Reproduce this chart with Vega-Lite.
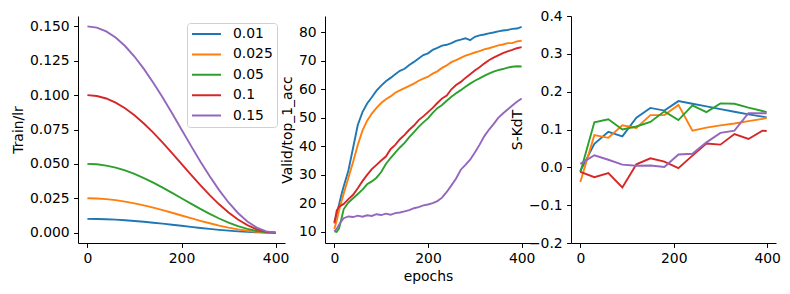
{
"$schema":"https://vega.github.io/schema/vega-lite/v6.json",
"padding":{"left":11,"top":9,"right":0,"bottom":0},
"autosize":{"type":"pad"},
"bounds":"flush",
"spacing":40,
"config":{"font":"DejaVu Sans","view":{"stroke":null},
"axis":{"grid":false,"labelFontSize":13.9,"titleFontSize":13.9,"titleFontWeight":"normal","labelColor":"#000","titleColor":"#000","domainColor":"#000","tickColor":"#000","tickSize":4.4,"labelPadding":4.4,"titlePadding":4,"domainWidth":1,"tickWidth":1,"labelFlush":false,"labelOverlap":false}},
"datasets":{
"lr":[
{"s":"0.01","e":0,"v":0.01},{"s":"0.01","e":20,"v":0.00994},{"s":"0.01","e":40,"v":0.00976},{"s":"0.01","e":60,"v":0.00946},{"s":"0.01","e":80,"v":0.00905},{"s":"0.01","e":100,"v":0.00854},{"s":"0.01","e":120,"v":0.00794},{"s":"0.01","e":140,"v":0.00727},{"s":"0.01","e":160,"v":0.00655},{"s":"0.01","e":180,"v":0.00578},{"s":"0.01","e":200,"v":0.005},{"s":"0.01","e":220,"v":0.00422},{"s":"0.01","e":240,"v":0.00345},{"s":"0.01","e":260,"v":0.00273},{"s":"0.01","e":280,"v":0.00206},{"s":"0.01","e":300,"v":0.00146},{"s":"0.01","e":320,"v":0.00095},{"s":"0.01","e":340,"v":0.00055},{"s":"0.01","e":360,"v":0.00024},{"s":"0.01","e":380,"v":0.00006},{"s":"0.01","e":400,"v":0},
{"s":"0.025","e":0,"v":0.025},{"s":"0.025","e":20,"v":0.02485},{"s":"0.025","e":40,"v":0.02439},{"s":"0.025","e":60,"v":0.02364},{"s":"0.025","e":80,"v":0.02261},{"s":"0.025","e":100,"v":0.02134},{"s":"0.025","e":120,"v":0.01985},{"s":"0.025","e":140,"v":0.01818},{"s":"0.025","e":160,"v":0.01636},{"s":"0.025","e":180,"v":0.01446},{"s":"0.025","e":200,"v":0.0125},{"s":"0.025","e":220,"v":0.01054},{"s":"0.025","e":240,"v":0.00864},{"s":"0.025","e":260,"v":0.00683},{"s":"0.025","e":280,"v":0.00515},{"s":"0.025","e":300,"v":0.00366},{"s":"0.025","e":320,"v":0.00239},{"s":"0.025","e":340,"v":0.00136},{"s":"0.025","e":360,"v":0.00061},{"s":"0.025","e":380,"v":0.00015},{"s":"0.025","e":400,"v":0},
{"s":"0.05","e":0,"v":0.05},{"s":"0.05","e":20,"v":0.04969},{"s":"0.05","e":40,"v":0.04878},{"s":"0.05","e":60,"v":0.04728},{"s":"0.05","e":80,"v":0.04523},{"s":"0.05","e":100,"v":0.04268},{"s":"0.05","e":120,"v":0.03969},{"s":"0.05","e":140,"v":0.03635},{"s":"0.05","e":160,"v":0.03273},{"s":"0.05","e":180,"v":0.02891},{"s":"0.05","e":200,"v":0.025},{"s":"0.05","e":220,"v":0.02109},{"s":"0.05","e":240,"v":0.01727},{"s":"0.05","e":260,"v":0.01365},{"s":"0.05","e":280,"v":0.01031},{"s":"0.05","e":300,"v":0.00732},{"s":"0.05","e":320,"v":0.00477},{"s":"0.05","e":340,"v":0.00273},{"s":"0.05","e":360,"v":0.00122},{"s":"0.05","e":380,"v":0.00031},{"s":"0.05","e":400,"v":0},
{"s":"0.1","e":0,"v":0.1},{"s":"0.1","e":20,"v":0.09938},{"s":"0.1","e":40,"v":0.09755},{"s":"0.1","e":60,"v":0.09455},{"s":"0.1","e":80,"v":0.09045},{"s":"0.1","e":100,"v":0.08536},{"s":"0.1","e":120,"v":0.07939},{"s":"0.1","e":140,"v":0.0727},{"s":"0.1","e":160,"v":0.06545},{"s":"0.1","e":180,"v":0.05782},{"s":"0.1","e":200,"v":0.05},{"s":"0.1","e":220,"v":0.04218},{"s":"0.1","e":240,"v":0.03455},{"s":"0.1","e":260,"v":0.0273},{"s":"0.1","e":280,"v":0.02061},{"s":"0.1","e":300,"v":0.01464},{"s":"0.1","e":320,"v":0.00955},{"s":"0.1","e":340,"v":0.00545},{"s":"0.1","e":360,"v":0.00245},{"s":"0.1","e":380,"v":0.00062},{"s":"0.1","e":400,"v":0},
{"s":"0.15","e":0,"v":0.15},{"s":"0.15","e":20,"v":0.14908},{"s":"0.15","e":40,"v":0.14633},{"s":"0.15","e":60,"v":0.14183},{"s":"0.15","e":80,"v":0.13568},{"s":"0.15","e":100,"v":0.12803},{"s":"0.15","e":120,"v":0.11908},{"s":"0.15","e":140,"v":0.10905},{"s":"0.15","e":160,"v":0.09818},{"s":"0.15","e":180,"v":0.08673},{"s":"0.15","e":200,"v":0.075},{"s":"0.15","e":220,"v":0.06327},{"s":"0.15","e":240,"v":0.05182},{"s":"0.15","e":260,"v":0.04095},{"s":"0.15","e":280,"v":0.03092},{"s":"0.15","e":300,"v":0.02197},{"s":"0.15","e":320,"v":0.01432},{"s":"0.15","e":340,"v":0.00818},{"s":"0.15","e":360,"v":0.00367},{"s":"0.15","e":380,"v":0.00092},{"s":"0.15","e":400,"v":0}
],
"acc":[
{"s":"0.01","e":0,"v":13.5},{"s":"0.01","e":5,"v":16},{"s":"0.01","e":10,"v":19.5},{"s":"0.01","e":15,"v":23},{"s":"0.01","e":20,"v":26},{"s":"0.01","e":30,"v":31.5},{"s":"0.01","e":40,"v":39.5},{"s":"0.01","e":50,"v":47.5},{"s":"0.01","e":60,"v":52},{"s":"0.01","e":70,"v":55},{"s":"0.01","e":80,"v":57.2},{"s":"0.01","e":90,"v":59.5},{"s":"0.01","e":100,"v":61.3},{"s":"0.01","e":110,"v":62.8},{"s":"0.01","e":120,"v":64},{"s":"0.01","e":130,"v":65.3},{"s":"0.01","e":140,"v":66.5},{"s":"0.01","e":150,"v":67.2},{"s":"0.01","e":160,"v":68.5},{"s":"0.01","e":170,"v":69.6},{"s":"0.01","e":180,"v":70.8},{"s":"0.01","e":190,"v":72},{"s":"0.01","e":200,"v":72.6},{"s":"0.01","e":210,"v":73.8},{"s":"0.01","e":220,"v":74.5},{"s":"0.01","e":230,"v":75.3},{"s":"0.01","e":240,"v":75.6},{"s":"0.01","e":250,"v":76.2},{"s":"0.01","e":260,"v":77},{"s":"0.01","e":270,"v":77.4},{"s":"0.01","e":280,"v":77.9},{"s":"0.01","e":290,"v":77.2},{"s":"0.01","e":300,"v":78.4},{"s":"0.01","e":310,"v":78.9},{"s":"0.01","e":320,"v":79.2},{"s":"0.01","e":330,"v":79.6},{"s":"0.01","e":340,"v":79.9},{"s":"0.01","e":350,"v":80.3},{"s":"0.01","e":360,"v":80.6},{"s":"0.01","e":370,"v":80.8},{"s":"0.01","e":380,"v":81.2},{"s":"0.01","e":390,"v":81.3},{"s":"0.01","e":400,"v":81.9},
{"s":"0.025","e":0,"v":11},{"s":"0.025","e":5,"v":14},{"s":"0.025","e":10,"v":17.5},{"s":"0.025","e":15,"v":20.5},{"s":"0.025","e":20,"v":23.5},{"s":"0.025","e":30,"v":29},{"s":"0.025","e":40,"v":34.5},{"s":"0.025","e":50,"v":40.5},{"s":"0.025","e":60,"v":45.5},{"s":"0.025","e":70,"v":49},{"s":"0.025","e":80,"v":51.5},{"s":"0.025","e":90,"v":53.5},{"s":"0.025","e":100,"v":55.2},{"s":"0.025","e":110,"v":56.5},{"s":"0.025","e":120,"v":57.5},{"s":"0.025","e":130,"v":58.8},{"s":"0.025","e":140,"v":59.6},{"s":"0.025","e":150,"v":60.4},{"s":"0.025","e":160,"v":61.2},{"s":"0.025","e":170,"v":62},{"s":"0.025","e":180,"v":63},{"s":"0.025","e":190,"v":63.7},{"s":"0.025","e":200,"v":64.4},{"s":"0.025","e":210,"v":65.5},{"s":"0.025","e":220,"v":66.3},{"s":"0.025","e":230,"v":67.5},{"s":"0.025","e":240,"v":68.4},{"s":"0.025","e":250,"v":69.5},{"s":"0.025","e":260,"v":70.2},{"s":"0.025","e":270,"v":71},{"s":"0.025","e":280,"v":71.8},{"s":"0.025","e":290,"v":72.3},{"s":"0.025","e":300,"v":72.9},{"s":"0.025","e":310,"v":73.4},{"s":"0.025","e":320,"v":74},{"s":"0.025","e":330,"v":74.4},{"s":"0.025","e":340,"v":74.9},{"s":"0.025","e":350,"v":75.4},{"s":"0.025","e":360,"v":75.7},{"s":"0.025","e":370,"v":76.2},{"s":"0.025","e":380,"v":76.2},{"s":"0.025","e":390,"v":76.8},{"s":"0.025","e":400,"v":77},
{"s":"0.05","e":0,"v":10.2},{"s":"0.05","e":5,"v":10},{"s":"0.05","e":10,"v":11.2},{"s":"0.05","e":15,"v":14.5},{"s":"0.05","e":20,"v":18},{"s":"0.05","e":30,"v":20.3},{"s":"0.05","e":40,"v":21.8},{"s":"0.05","e":50,"v":23.3},{"s":"0.05","e":60,"v":24.8},{"s":"0.05","e":70,"v":26.7},{"s":"0.05","e":80,"v":27.7},{"s":"0.05","e":90,"v":29},{"s":"0.05","e":100,"v":31},{"s":"0.05","e":110,"v":33.8},{"s":"0.05","e":120,"v":35.9},{"s":"0.05","e":130,"v":37.8},{"s":"0.05","e":140,"v":39.6},{"s":"0.05","e":150,"v":41.2},{"s":"0.05","e":160,"v":43.2},{"s":"0.05","e":170,"v":45},{"s":"0.05","e":180,"v":46.8},{"s":"0.05","e":190,"v":48.4},{"s":"0.05","e":200,"v":49.8},{"s":"0.05","e":210,"v":51.7},{"s":"0.05","e":220,"v":53.4},{"s":"0.05","e":230,"v":54.5},{"s":"0.05","e":240,"v":56},{"s":"0.05","e":250,"v":57.4},{"s":"0.05","e":260,"v":58.6},{"s":"0.05","e":270,"v":59.7},{"s":"0.05","e":280,"v":60.9},{"s":"0.05","e":290,"v":62},{"s":"0.05","e":300,"v":63},{"s":"0.05","e":310,"v":63.8},{"s":"0.05","e":320,"v":64.7},{"s":"0.05","e":330,"v":65.5},{"s":"0.05","e":340,"v":66.2},{"s":"0.05","e":350,"v":66.7},{"s":"0.05","e":360,"v":67.1},{"s":"0.05","e":370,"v":67.6},{"s":"0.05","e":380,"v":67.9},{"s":"0.05","e":390,"v":68.1},{"s":"0.05","e":400,"v":68},
{"s":"0.1","e":0,"v":13},{"s":"0.1","e":5,"v":17.5},{"s":"0.1","e":10,"v":18.8},{"s":"0.1","e":15,"v":19.3},{"s":"0.1","e":20,"v":19.8},{"s":"0.1","e":30,"v":21.5},{"s":"0.1","e":40,"v":23},{"s":"0.1","e":50,"v":25.3},{"s":"0.1","e":60,"v":27.8},{"s":"0.1","e":70,"v":30},{"s":"0.1","e":80,"v":32},{"s":"0.1","e":90,"v":33.5},{"s":"0.1","e":100,"v":35},{"s":"0.1","e":110,"v":36.4},{"s":"0.1","e":120,"v":39},{"s":"0.1","e":130,"v":40.5},{"s":"0.1","e":140,"v":42.5},{"s":"0.1","e":150,"v":44},{"s":"0.1","e":160,"v":45.8},{"s":"0.1","e":170,"v":47.3},{"s":"0.1","e":180,"v":49.2},{"s":"0.1","e":190,"v":50.5},{"s":"0.1","e":200,"v":52},{"s":"0.1","e":210,"v":53.5},{"s":"0.1","e":220,"v":55.2},{"s":"0.1","e":230,"v":56.8},{"s":"0.1","e":240,"v":57.8},{"s":"0.1","e":250,"v":60},{"s":"0.1","e":260,"v":61.5},{"s":"0.1","e":270,"v":62.6},{"s":"0.1","e":280,"v":64},{"s":"0.1","e":290,"v":65.3},{"s":"0.1","e":300,"v":66.6},{"s":"0.1","e":310,"v":67.7},{"s":"0.1","e":320,"v":69},{"s":"0.1","e":330,"v":70.2},{"s":"0.1","e":340,"v":71.1},{"s":"0.1","e":350,"v":71.9},{"s":"0.1","e":360,"v":72.7},{"s":"0.1","e":370,"v":73.3},{"s":"0.1","e":380,"v":73.8},{"s":"0.1","e":390,"v":74.4},{"s":"0.1","e":400,"v":74.8},
{"s":"0.15","e":0,"v":10.2},{"s":"0.15","e":5,"v":11},{"s":"0.15","e":10,"v":12.5},{"s":"0.15","e":15,"v":13.8},{"s":"0.15","e":20,"v":14.8},{"s":"0.15","e":30,"v":15.4},{"s":"0.15","e":40,"v":15.2},{"s":"0.15","e":50,"v":15.7},{"s":"0.15","e":60,"v":15.3},{"s":"0.15","e":70,"v":15.8},{"s":"0.15","e":80,"v":15.6},{"s":"0.15","e":90,"v":16.2},{"s":"0.15","e":100,"v":15.9},{"s":"0.15","e":110,"v":16.4},{"s":"0.15","e":120,"v":16},{"s":"0.15","e":130,"v":16.6},{"s":"0.15","e":140,"v":16.8},{"s":"0.15","e":150,"v":17.2},{"s":"0.15","e":160,"v":17.6},{"s":"0.15","e":170,"v":18.3},{"s":"0.15","e":180,"v":18.7},{"s":"0.15","e":190,"v":19.3},{"s":"0.15","e":200,"v":19.6},{"s":"0.15","e":210,"v":20.1},{"s":"0.15","e":220,"v":20.8},{"s":"0.15","e":230,"v":22},{"s":"0.15","e":240,"v":24},{"s":"0.15","e":250,"v":26.3},{"s":"0.15","e":260,"v":28.7},{"s":"0.15","e":270,"v":31.8},{"s":"0.15","e":280,"v":33.5},{"s":"0.15","e":290,"v":35.3},{"s":"0.15","e":300,"v":37.8},{"s":"0.15","e":310,"v":40.5},{"s":"0.15","e":320,"v":43.5},{"s":"0.15","e":330,"v":45.8},{"s":"0.15","e":340,"v":47.8},{"s":"0.15","e":350,"v":50},{"s":"0.15","e":360,"v":51.5},{"s":"0.15","e":370,"v":52.9},{"s":"0.15","e":380,"v":54.3},{"s":"0.15","e":390,"v":55.6},{"s":"0.15","e":400,"v":56.8}
],
"kdt":[
{"s":"0.01","e":0,"v":-0.01},{"s":"0.01","e":30,"v":0.062},{"s":"0.01","e":60,"v":0.094},{"s":"0.01","e":90,"v":0.082},{"s":"0.01","e":120,"v":0.131},{"s":"0.01","e":150,"v":0.157},{"s":"0.01","e":180,"v":0.15},{"s":"0.01","e":210,"v":0.175},{"s":"0.01","e":240,"v":0.168},{"s":"0.01","e":270,"v":0.161},{"s":"0.01","e":300,"v":0.154},{"s":"0.01","e":330,"v":0.147},{"s":"0.01","e":360,"v":0.14},{"s":"0.01","e":390,"v":0.134},{"s":"0.01","e":399,"v":0.132},
{"s":"0.025","e":0,"v":-0.039},{"s":"0.025","e":30,"v":0.085},{"s":"0.025","e":60,"v":0.078},{"s":"0.025","e":90,"v":0.111},{"s":"0.025","e":120,"v":0.104},{"s":"0.025","e":150,"v":0.138},{"s":"0.025","e":180,"v":0.138},{"s":"0.025","e":210,"v":0.165},{"s":"0.025","e":240,"v":0.097},{"s":"0.025","e":270,"v":0.105},{"s":"0.025","e":300,"v":0.111},{"s":"0.025","e":330,"v":0.116},{"s":"0.025","e":360,"v":0.122},{"s":"0.025","e":390,"v":0.128},{"s":"0.025","e":399,"v":0.131},
{"s":"0.05","e":0,"v":-0.013},{"s":"0.05","e":30,"v":0.119},{"s":"0.05","e":60,"v":0.127},{"s":"0.05","e":90,"v":0.1},{"s":"0.05","e":120,"v":0.108},{"s":"0.05","e":150,"v":0.12},{"s":"0.05","e":180,"v":0.148},{"s":"0.05","e":210,"v":0.125},{"s":"0.05","e":240,"v":0.164},{"s":"0.05","e":270,"v":0.146},{"s":"0.05","e":300,"v":0.169},{"s":"0.05","e":330,"v":0.168},{"s":"0.05","e":360,"v":0.158},{"s":"0.05","e":390,"v":0.149},{"s":"0.05","e":399,"v":0.146},
{"s":"0.1","e":0,"v":-0.012},{"s":"0.1","e":30,"v":-0.026},{"s":"0.1","e":60,"v":-0.015},{"s":"0.1","e":90,"v":-0.053},{"s":"0.1","e":120,"v":0.008},{"s":"0.1","e":150,"v":0.024},{"s":"0.1","e":180,"v":0.015},{"s":"0.1","e":210,"v":-0.002},{"s":"0.1","e":240,"v":0.031},{"s":"0.1","e":270,"v":0.063},{"s":"0.1","e":300,"v":0.06},{"s":"0.1","e":330,"v":0.088},{"s":"0.1","e":360,"v":0.075},{"s":"0.1","e":390,"v":0.097},{"s":"0.1","e":399,"v":0.096},
{"s":"0.15","e":0,"v":0.009},{"s":"0.15","e":30,"v":0.032},{"s":"0.15","e":60,"v":0.02},{"s":"0.15","e":90,"v":0.007},{"s":"0.15","e":120,"v":0.004},{"s":"0.15","e":150,"v":0.005},{"s":"0.15","e":180,"v":0.001},{"s":"0.15","e":210,"v":0.034},{"s":"0.15","e":240,"v":0.036},{"s":"0.15","e":270,"v":0.066},{"s":"0.15","e":300,"v":0.091},{"s":"0.15","e":330,"v":0.097},{"s":"0.15","e":360,"v":0.143},{"s":"0.15","e":390,"v":0.143},{"s":"0.15","e":399,"v":0.143}
]
},
"resolve":{"scale":{"color":"independent"},"legend":{"color":"independent"}},
"hconcat":[
{"width":207,"height":227,"data":{"name":"lr"},"mark":{"type":"line","strokeWidth":1.9},
"encoding":{
"x":{"field":"e","type":"quantitative","scale":{"domain":[-20,420],"nice":false,"zero":false},"axis":{"values":[0,200,400],"title":null}},
"y":{"field":"v","type":"quantitative","scale":{"domain":[-0.0075,0.1575],"nice":false,"zero":false},"axis":{"values":[0,0.025,0.05,0.075,0.1,0.125,0.15],"format":".3f","title":"Train/lr"}},
"color":{"field":"s","type":"nominal","scale":{"domain":["0.01","0.025","0.05","0.1","0.15"],"range":["#1f77b4","#ff7f0e","#2ca02c","#d62728","#9467bd"]},
"legend":{"title":null,"orient":"none","legendX":109,"legendY":7,"symbolType":"stroke","symbolSize":841,"symbolStrokeWidth":2,"labelFontSize":13.9,"labelColor":"#000","padding":4,"strokeColor":"#d0d0d0","fillColor":"rgba(255,255,255,0.8)","cornerRadius":3,"clipHeight":14,"rowPadding":6.4,"labelOffset":11}}}},
{"width":206,"height":227,"data":{"name":"acc"},"mark":{"type":"line","strokeWidth":1.9},
"encoding":{
"x":{"field":"e","type":"quantitative","scale":{"domain":[-20,420],"nice":false,"zero":false},"axis":{"values":[0,200,400],"title":"epochs"}},
"y":{"field":"v","type":"quantitative","scale":{"domain":[6.1,85.7],"nice":false,"zero":false},"axis":{"values":[10,20,30,40,50,60,70,80],"title":"Valid/top_1_acc"}},
"color":{"field":"s","type":"nominal","scale":{"domain":["0.01","0.025","0.05","0.1","0.15"],"range":["#1f77b4","#ff7f0e","#2ca02c","#d62728","#9467bd"]},"legend":null}}},
{"width":205,"height":227,"data":{"name":"kdt"},"mark":{"type":"line","strokeWidth":1.9},
"encoding":{
"x":{"field":"e","type":"quantitative","scale":{"domain":[-20,419],"nice":false,"zero":false},"axis":{"values":[0,200,400],"title":null}},
"y":{"field":"v","type":"quantitative","scale":{"domain":[-0.2,0.4],"nice":false,"zero":false},"axis":{"values":[-0.2,-0.1,0,0.1,0.2,0.3,0.4],"format":".1f","title":"S-KdT"}},
"color":{"field":"s","type":"nominal","scale":{"domain":["0.01","0.025","0.05","0.1","0.15"],"range":["#1f77b4","#ff7f0e","#2ca02c","#d62728","#9467bd"]},"legend":null}}}
]
}
